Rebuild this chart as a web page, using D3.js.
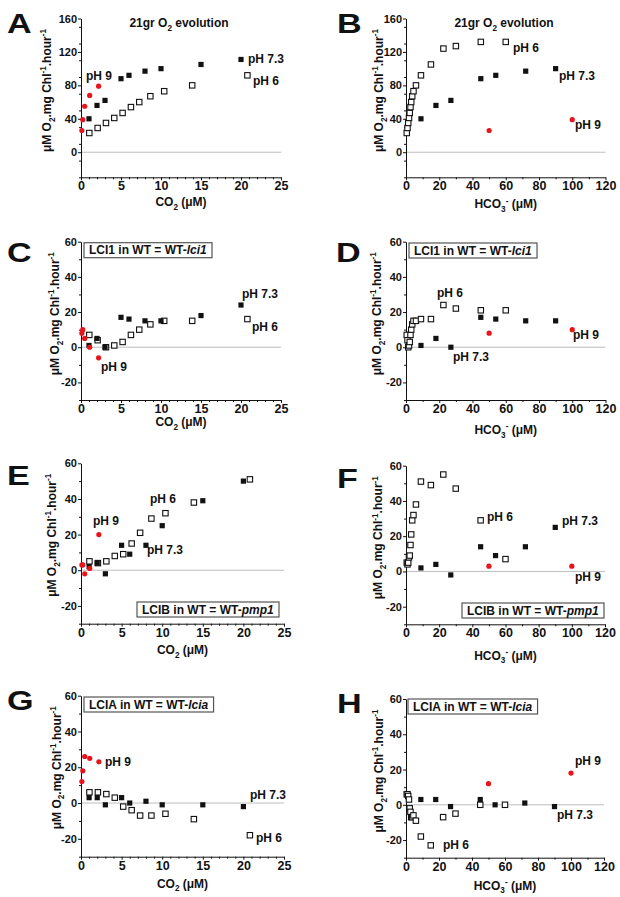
<!DOCTYPE html>
<html>
<head>
<meta charset="utf-8">
<script src="https://cdn.jsdelivr.net/npm/d3@7/dist/d3.min.js"></script>
<style>
body { margin: 0; background: #fff; }
text { font-family: "Liberation Sans", Arial, sans-serif; font-weight: bold; fill: #111; }
</style>
</head>
<body>
<div id="svgDiv"></div>
<script>
// x values (uM) for each pH series
var co2_ph73 = [1, 2, 3, 5, 6, 8, 10, 15, 20];
var co2_ph6 = [1.04, 2.08, 3.12, 4.16, 5.2, 6.24, 7.28, 8.67, 10.4, 13.9, 20.8];
var co2_ph9 = [0.11, 0.22, 0.46, 1.08, 2.2];
var hco3_ph73 = [9, 18, 27, 45, 54, 72, 90];
var hco3_ph6 = [0.45, 0.9, 1.35, 1.8, 2.25, 2.7, 3.15, 3.75, 4.5, 6, 9, 15, 22.5, 30, 45, 60];
var hco3_ph9 = [50, 100];

// O2 evolution rates (uM O2 / mg Chl / hour)
var a_ph73 = [40, 56, 62, 88, 92, 97, 100, 105, 111];
var a_ph6 = [23, 29, 35, 41, 47, 54, 60, 67, 73, 80, 92];
var a_ph9 = [26, 39, 55, 68, 79];
var b_ph73 = [40, 56, 62, 88, 92, 97, 100];
var b_ph6 = [23, 29, 35, 41, 47, 54, 60, 67, 73, 80, 92, 105, 124, 127, 132, 132];
var b_ph9 = [26, 39];

var c_ph73 = [1, 5, 0, 17, 16, 15, 15, 18, 24];
var c_ph6 = [7, 4, 0, 1, 3, 7, 10, 13, 15, 15, 16];
var c_ph9 = [8, 10, 5, 0, -6];
var d_ph73 = [1, 5, 0, 17, 16, 15, 15];
var d_ph6 = [7, 4, 0, 1, 3, 7, 10, 13, 15, 15, 16, 16, 24, 22, 21, 21];
var d_ph9 = [8, 10];

var e_ph73 = [2, 4, -2, 14, 9, 14, 25, 39, 50];
var e_ph6 = [5, 4, 5, 8, 9, 15, 21, 29, 32, 38, 51];
var e_ph9 = [3, 3, -2, 1, 20];
var f_ph73 = [2, 4, -2, 14, 9, 14, 25];
var f_ph6 = [5, 4, 5, 8, 9, 15, 21, 29, 32, 38, 51, 49, 55, 47, 29, 7];
var f_ph9 = [3, 3];

var g_ph73 = [3, 3, -1, 3, 0, 1, -1, -1, -2];
var g_ph6 = [6, 6, 5, 3, -2, -4, -7, -7, -6, -9, -18];
var g_ph9 = [12, 18, 26, 25, 23];
var h_ph73 = [3, 3, -1, 3, 0, 1, -1];
var h_ph6 = [6, 6, 5, 3, -2, -4, -7, -7, -6, -9, -18, -23, -7, -5, 0, 0];
var h_ph9 = [12, 18];

// axis ticks
var co2Ticks = [0, 5, 10, 15, 20, 25];
var hco3Ticks = [0, 20, 40, 60, 80, 100, 120];
var bigYTicks = [0, 40, 80, 120, 160];
var smallYTicks = [-20, 0, 20, 40, 60];

var boxLci1 = [["LCI1 in WT = WT-", ""], ["lci1", "it"]];
var boxLcib = [["LCIB in WT = WT-", ""], ["pmp1", "it"]];
var boxLcia = [["LCIA in WT = WT-", ""], ["lcia", "it"]];

var svg = d3.select("#svgDiv")
    .append("svg")
    .attr("width", 620)
    .attr("height", 897);

// panel layout (pixels)
var panels = [
    {id: "A", lx: 7, ly: 33, x0: 81, x1: 281, yTop: 18.5, yBot: 177.3, co2: true, yt: bigYTicks,
     v73: a_ph73, v6: a_ph6, v9: a_ph9, ylab: 34, xlab: 29, title: true,
     labels: [["pH 9", 5, 61.5], ["pH 7.3", 167, 44.5], ["pH 6", 172, 66.5]]},
    {id: "B", lx: 337, ly: 33, x0: 406, x1: 605.5, yTop: 18.5, yBot: 177.3, co2: false, yt: bigYTicks,
     v73: b_ph73, v6: b_ph6, v9: b_ph9, ylab: 27, xlab: 31, title: true,
     labels: [["pH 6", 107, 33.5], ["pH 7.3", 153, 61.5], ["pH 9", 169, 110.5]]},
    {id: "C", lx: 7, ly: 262, x0: 81, x1: 281, yTop: 241.7, yBot: 400, co2: true, yt: smallYTicks,
     v73: c_ph73, v6: c_ph6, v9: c_ph9, ylab: 26, xlab: 26, box: boxLci1, bx: 3, by: 1,
     labels: [["pH 7.3", 161, 56.3], ["pH 6", 171, 89.3], ["pH 9", 20, 129.3]]},
    {id: "D", lx: 336, ly: 262, x0: 406, x1: 605.5, yTop: 241.7, yBot: 400, co2: false, yt: smallYTicks,
     v73: d_ph73, v6: d_ph6, v9: d_ph9, ylab: 29, xlab: 34, box: boxLci1, bx: 3, by: 1.3,
     labels: [["pH 6", 31, 55.3], ["pH 7.3", 47, 119.3], ["pH 9", 167, 97.3]]},
    {id: "E", lx: 7, ly: 485, x0: 81, x1: 284, yTop: 463.3, yBot: 623.7, co2: true, yt: smallYTicks,
     v73: e_ph73, v6: e_ph6, v9: e_ph9, ylab: 29, xlab: 30.5, box: boxLcib, bx: 56, by: 138.7,
     labels: [["pH 6", 69, 39.7], ["pH 9", 12, 61.7], ["pH 7.3", 66, 90.7]]},
    {id: "F", lx: 337, ly: 488, x0: 406, x1: 605, yTop: 465.7, yBot: 624.3, co2: false, yt: smallYTicks,
     v73: f_ph73, v6: f_ph6, v9: f_ph9, ylab: 27.7, xlab: 35.5, box: boxLcib, bx: 56, by: 137.3,
     labels: [["pH 6", 81, 55.3], ["pH 7.3", 156, 59.3], ["pH 9", 169, 115.3]]},
    {id: "G", lx: 7, ly: 710, x0: 81, x1: 284, yTop: 695.7, yBot: 856.7, co2: true, yt: smallYTicks,
     v73: g_ph73, v6: g_ph6, v9: g_ph9, ylab: 24.3, xlab: 31, box: boxLcia, bx: 3, by: 1.3,
     labels: [["pH 9", 24, 70.3], ["pH 7.3", 169, 103.3], ["pH 6", 175, 146.3]]},
    {id: "H", lx: 337, ly: 713, x0: 406, x1: 604, yTop: 699, yBot: 857.7, co2: false, yt: smallYTicks,
     v73: h_ph73, v6: h_ph6, v9: h_ph9, ylab: 27, xlab: 32, box: boxLcia, bx: 2, by: 0,
     labels: [["pH 9", 169, 66], ["pH 7.3", 151, 120], ["pH 6", 37, 150]]}
];

// write text made of normal / sub / sup / italic pieces
function richText(sel, parts, size) {
    var shift = 0;
    parts.forEach(function(p) {
        var t = sel.append("tspan").text(p[0]);
        var want = 0;
        if (p[1] == "sub") want = size * 0.3;
        if (p[1] == "sup") want = -size * 0.38;
        if (p[1] == "sub" || p[1] == "sup") t.style("font-size", (size * 0.68) + "px");
        if (p[1] == "it") t.style("font-style", "italic");
        if (want != shift) t.attr("dy", want - shift);
        shift = want;
    });
    if (shift != 0) sel.append("tspan").attr("dy", -shift).text("");
}

var yLabelParts = [["\u03bcM O", ""], ["2", "sub"], [".mg Chl", ""], ["-1", "sup"], [".hour", ""], ["-1", "sup"]];
var co2Parts = [["CO", ""], ["2", "sub"], [" (\u03bcM)", ""]];
var hco3Parts = [["HCO", ""], ["3", "sub"], ["-", "sup"], [" (\u03bcM)", ""]];
var titleParts = [["21gr O", ""], ["2", "sub"], [" evolution", ""]];

panels.forEach(function(p) {
    var g = svg.append("g");
    var xTicks = p.co2 ? co2Ticks : hco3Ticks;
    var xMax = xTicks[xTicks.length - 1];
    var yMax = p.yt[p.yt.length - 1];
    var xs = p.co2 ? co2_ph73 : hco3_ph73;
    var x6 = p.co2 ? co2_ph6 : hco3_ph6;
    var x9 = p.co2 ? co2_ph9 : hco3_ph9;

    var x = d3.scaleLinear().domain([0, xMax]).range([p.x0, p.x1]);
    var y = d3.scaleLinear().domain([-30, yMax]).range([p.yBot, p.yTop]);

    // panel letter
    g.append("text")
        .attr("transform", "translate(" + p.lx + "," + p.ly + ") scale(1.22,1)")
        .style("font-size", "28px")
        .text(p.id);

    // zero line
    g.append("line")
        .attr("x1", x(0)).attr("x2", x(xMax))
        .attr("y1", y(0)).attr("y2", y(0))
        .attr("stroke", "#bdbdbd")
        .attr("stroke-width", 1);

    // minor ticks
    var yStep = p.yt[1] - p.yt[0];
    var yMinor = d3.range(-30, yMax, yStep / 2).filter(function(v) { return p.yt.indexOf(v) < 0; });
    var xStep = p.co2 ? 1 : 10;
    var xMinor = d3.range(0, xMax, xStep).filter(function(v) { return xTicks.indexOf(v) < 0; });

    g.append("g")
        .attr("transform", "translate(" + p.x0 + ",0)")
        .call(d3.axisLeft(y).tickValues(yMinor).tickSize(2).tickFormat(""))
        .select(".domain").remove();
    g.append("g")
        .attr("transform", "translate(0," + p.yBot + ")")
        .call(d3.axisBottom(x).tickValues(xMinor).tickSize(2).tickFormat(""))
        .select(".domain").remove();

    // main axes
    var ya = g.append("g")
        .attr("transform", "translate(" + p.x0 + ",0)")
        .call(d3.axisLeft(y).tickValues(p.yt).tickSize(3).tickSizeOuter(0).tickPadding(1)
            .tickFormat(function(d) { return String(d); }));
    ya.selectAll("text").style("font-size", "11px").style("font-family", null);

    var xa = g.append("g")
        .attr("transform", "translate(0," + p.yBot + ")")
        .call(d3.axisBottom(x).tickValues(xTicks).tickSize(3).tickSizeOuter(0).tickPadding(1)
            .tickFormat(function(d) { return String(d); }));
    xa.selectAll("text").style("font-size", "12.5px").style("font-family", null);

    g.selectAll(".domain, .tick line").attr("stroke", "#111");

    // axis titles
    var yl = g.append("text")
        .attr("transform", "translate(" + (p.x0 - p.ylab + 4) + "," + (p.yTop + 72) + ") rotate(-90)")
        .attr("text-anchor", "middle")
        .style("font-size", "12px");
    richText(yl, yLabelParts, 12);

    var xl = g.append("text")
        .attr("x", (p.x0 + p.x1) / 2)
        .attr("y", p.yBot + p.xlab)
        .attr("text-anchor", "middle")
        .style("font-size", "12px");
    richText(xl, p.co2 ? co2Parts : hco3Parts, 12);

    if (p.title) {
        var tl = g.append("text")
            .attr("x", p.x0 + 98)
            .attr("y", p.yTop + 8.5)
            .attr("text-anchor", "middle")
            .style("font-size", "12px");
        richText(tl, titleParts, 12);
    }

    if (p.box) {
        var br = g.append("rect");
        var bt = g.append("text")
            .attr("x", p.x0 + p.bx + 5)
            .attr("y", p.yTop + p.by + 11.5)
            .style("font-size", "12px");
        richText(bt, p.box, 12);
        var bb = bt.node().getBBox();
        br.attr("x", p.x0 + p.bx)
            .attr("y", p.yTop + p.by)
            .attr("width", bb.width + 10)
            .attr("height", 15)
            .attr("fill", "#fff")
            .attr("stroke", "#555")
            .attr("stroke-width", 1.2);
    }

    // pH labels
    p.labels.forEach(function(l) {
        g.append("text")
            .attr("x", p.x0 + l[1])
            .attr("y", p.yTop + l[2])
            .style("font-size", "12px")
            .text(l[0]);
    });

    // pH 6 open squares
    g.append("g").selectAll("rect")
        .data(p.v6)
        .enter()
        .append("rect")
        .attr("x", function(d, i) { return x(x6[i]) - 2.7; })
        .attr("y", function(d) { return y(d) - 2.7; })
        .attr("width", 5.4)
        .attr("height", 5.4)
        .attr("fill", "#fff")
        .attr("stroke", "#111")
        .attr("stroke-width", 1.1);

    // pH 7.3 filled squares
    g.append("g").selectAll("rect")
        .data(p.v73)
        .enter()
        .append("rect")
        .attr("x", function(d, i) { return x(xs[i]) - 2.6; })
        .attr("y", function(d) { return y(d) - 2.6; })
        .attr("width", 5.2)
        .attr("height", 5.2)
        .attr("fill", "#111");

    // pH 9 red circles
    g.append("g").selectAll("circle")
        .data(p.v9)
        .enter()
        .append("circle")
        .attr("cx", function(d, i) { return x(x9[i]); })
        .attr("cy", function(d) { return y(d); })
        .attr("r", 2.6)
        .attr("fill", "#e8141c");
});
</script>
</body>
</html>
